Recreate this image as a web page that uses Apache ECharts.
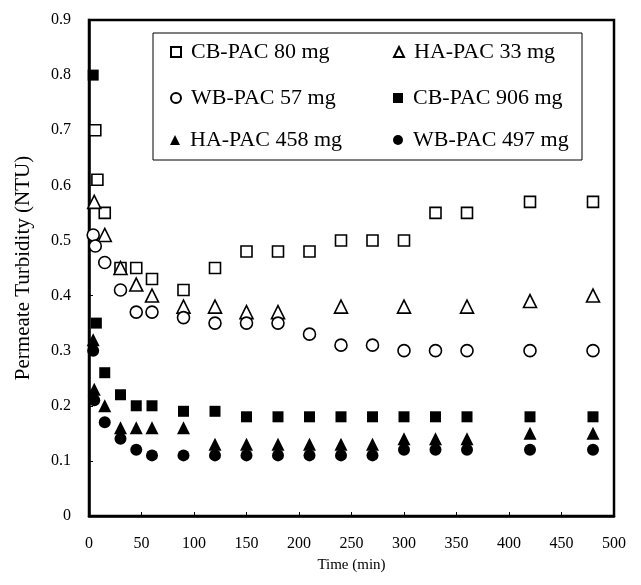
<!DOCTYPE html>
<html>
<head>
<meta charset="utf-8">
<script src="https://cdn.jsdelivr.net/npm/echarts@6/dist/echarts.min.js"></script>
<style>html,body{margin:0;padding:0;background:#fff}#c{width:641px;height:585px}</style>
</head>
<body>
<div id="c"></div>
<script>
var seriesNames = ['CB-PAC 80 mg', 'HA-PAC 33 mg', 'WB-PAC 57 mg', 'CB-PAC 906 mg', 'HA-PAC 458 mg', 'WB-PAC 497 mg'];

var cb80Time = [6, 8, 15, 30, 45, 60, 90, 120, 150, 180, 210, 240, 270, 300, 330, 360, 420, 480];
var cb80Val  = [0.70, 0.61, 0.55, 0.45, 0.45, 0.43, 0.41, 0.45, 0.48, 0.48, 0.48, 0.50, 0.50, 0.50, 0.55, 0.55, 0.57, 0.57];

var ha33Time = [5, 15, 30, 45, 60, 90, 120, 150, 180, 240, 300, 360, 420, 480];
var ha33Val  = [0.57, 0.51, 0.45, 0.42, 0.40, 0.38, 0.38, 0.37, 0.37, 0.38, 0.38, 0.38, 0.39, 0.40];

var wb57Time = [4, 6, 15, 30, 45, 60, 90, 120, 150, 180, 210, 240, 270, 300, 330, 360, 420, 480];
var wb57Val  = [0.51, 0.49, 0.46, 0.41, 0.37, 0.37, 0.36, 0.35, 0.35, 0.35, 0.33, 0.31, 0.31, 0.30, 0.30, 0.30, 0.30, 0.30];

var cb906Time = [4, 7, 15, 30, 45, 60, 90, 120, 150, 180, 210, 240, 270, 300, 330, 360, 420, 480];
var cb906Val  = [0.80, 0.35, 0.26, 0.22, 0.20, 0.20, 0.19, 0.19, 0.18, 0.18, 0.18, 0.18, 0.18, 0.18, 0.18, 0.18, 0.18, 0.18];

var ha458Time = [4, 5, 15, 30, 45, 60, 90, 120, 150, 180, 210, 240, 270, 300, 330, 360, 420, 480];
var ha458Val  = [0.32, 0.23, 0.20, 0.16, 0.16, 0.16, 0.16, 0.13, 0.13, 0.13, 0.13, 0.13, 0.13, 0.14, 0.14, 0.14, 0.15, 0.15];

var wb497Time = [4, 5, 15, 30, 45, 60, 90, 120, 150, 180, 210, 240, 270, 300, 330, 360, 420, 480];
var wb497Val  = [0.30, 0.21, 0.17, 0.14, 0.12, 0.11, 0.11, 0.11, 0.11, 0.11, 0.11, 0.11, 0.11, 0.12, 0.12, 0.12, 0.12, 0.12];

function pairs(t, v) { return t.map(function (x, i) { return [x, v[i]]; }); }

var FONT = 'Liberation Serif';
var chart = echarts.init(document.getElementById('c'), null, {renderer: 'canvas'});

function mk(name, t, v, symbol, size, filled) {
  return {
    name: name, type: 'scatter', data: pairs(t, v), symbol: symbol, symbolSize: size,
    itemStyle: filled ? {color: '#000', borderColor: '#000', borderWidth: 0, opacity: 1}
                      : {color: '#fff', borderColor: '#000', borderWidth: 1.6, opacity: 1},
    emphasis: {disabled: true}, z: filled ? 4 : 3
  };
}

var legendPos = [
  {left: 170, top: 41}, {left: 393, top: 41},
  {left: 170, top: 87}, {left: 393, top: 87},
  {left: 170, top: 129}, {left: 393, top: 129}
];
var legends = seriesNames.map(function (n, i) {
  return {
    data: [n], left: legendPos[i].left, top: legendPos[i].top, itemWidth: 10, itemHeight: 10, itemGap: 4,
    padding: 0, selectedMode: false,
    textStyle: {fontFamily: FONT, fontSize: 22, color: '#000', padding: [0, 0, 0, 5]}
  };
});

chart.setOption({
  backgroundColor: '#fff',
  animation: false,
  grid: {left: 89, right: 27, top: 20, bottom: 69, show: true, borderColor: '#000', borderWidth: 2.5},
  legend: legends,
  graphic: [{type: 'rect', shape: {x: 153, y: 33, width: 429, height: 127}, style: {fill: 'none', stroke: '#000', lineWidth: 1}, z: 1}],
  xAxis: {
    type: 'value', min: 0, max: 500, interval: 50,
    name: 'Time (min)', nameLocation: 'middle', nameGap: 42,
    nameTextStyle: {fontFamily: FONT, fontSize: 15, color: '#000'},
    axisLine: {lineStyle: {color: '#000', width: 2.5}},
    axisTick: {inside: true, length: 4, lineStyle: {color: '#000'}},
    axisLabel: {fontFamily: FONT, fontSize: 16, color: '#000', margin: 20},
    splitLine: {show: false}
  },
  yAxis: {
    type: 'value', min: 0, max: 0.9, interval: 0.1,
    name: 'Permeate Turbidity (NTU)', nameLocation: 'middle', nameGap: 55,
    nameTextStyle: {fontFamily: FONT, fontSize: 21, color: '#000'},
    axisLine: {lineStyle: {color: '#000', width: 2.5}},
    axisTick: {inside: true, length: 4, lineStyle: {color: '#000'}},
    axisLabel: {fontFamily: FONT, fontSize: 16, color: '#000', margin: 18,
      formatter: function (v) { return v === 0 ? '0' : v.toFixed(1); }},
    splitLine: {show: false}
  },
  series: [
    mk(seriesNames[0], cb80Time, cb80Val, 'rect', 11, false),
    mk(seriesNames[1], ha33Time, ha33Val, 'triangle', 13, false),
    mk(seriesNames[2], wb57Time, wb57Val, 'circle', 12, false),
    mk(seriesNames[3], cb906Time, cb906Val, 'rect', 11, true),
    mk(seriesNames[4], ha458Time, ha458Val, 'triangle', 13, true),
    mk(seriesNames[5], wb497Time, wb497Val, 'circle', 12, true)
  ]
});
</script>
</body>
</html>
